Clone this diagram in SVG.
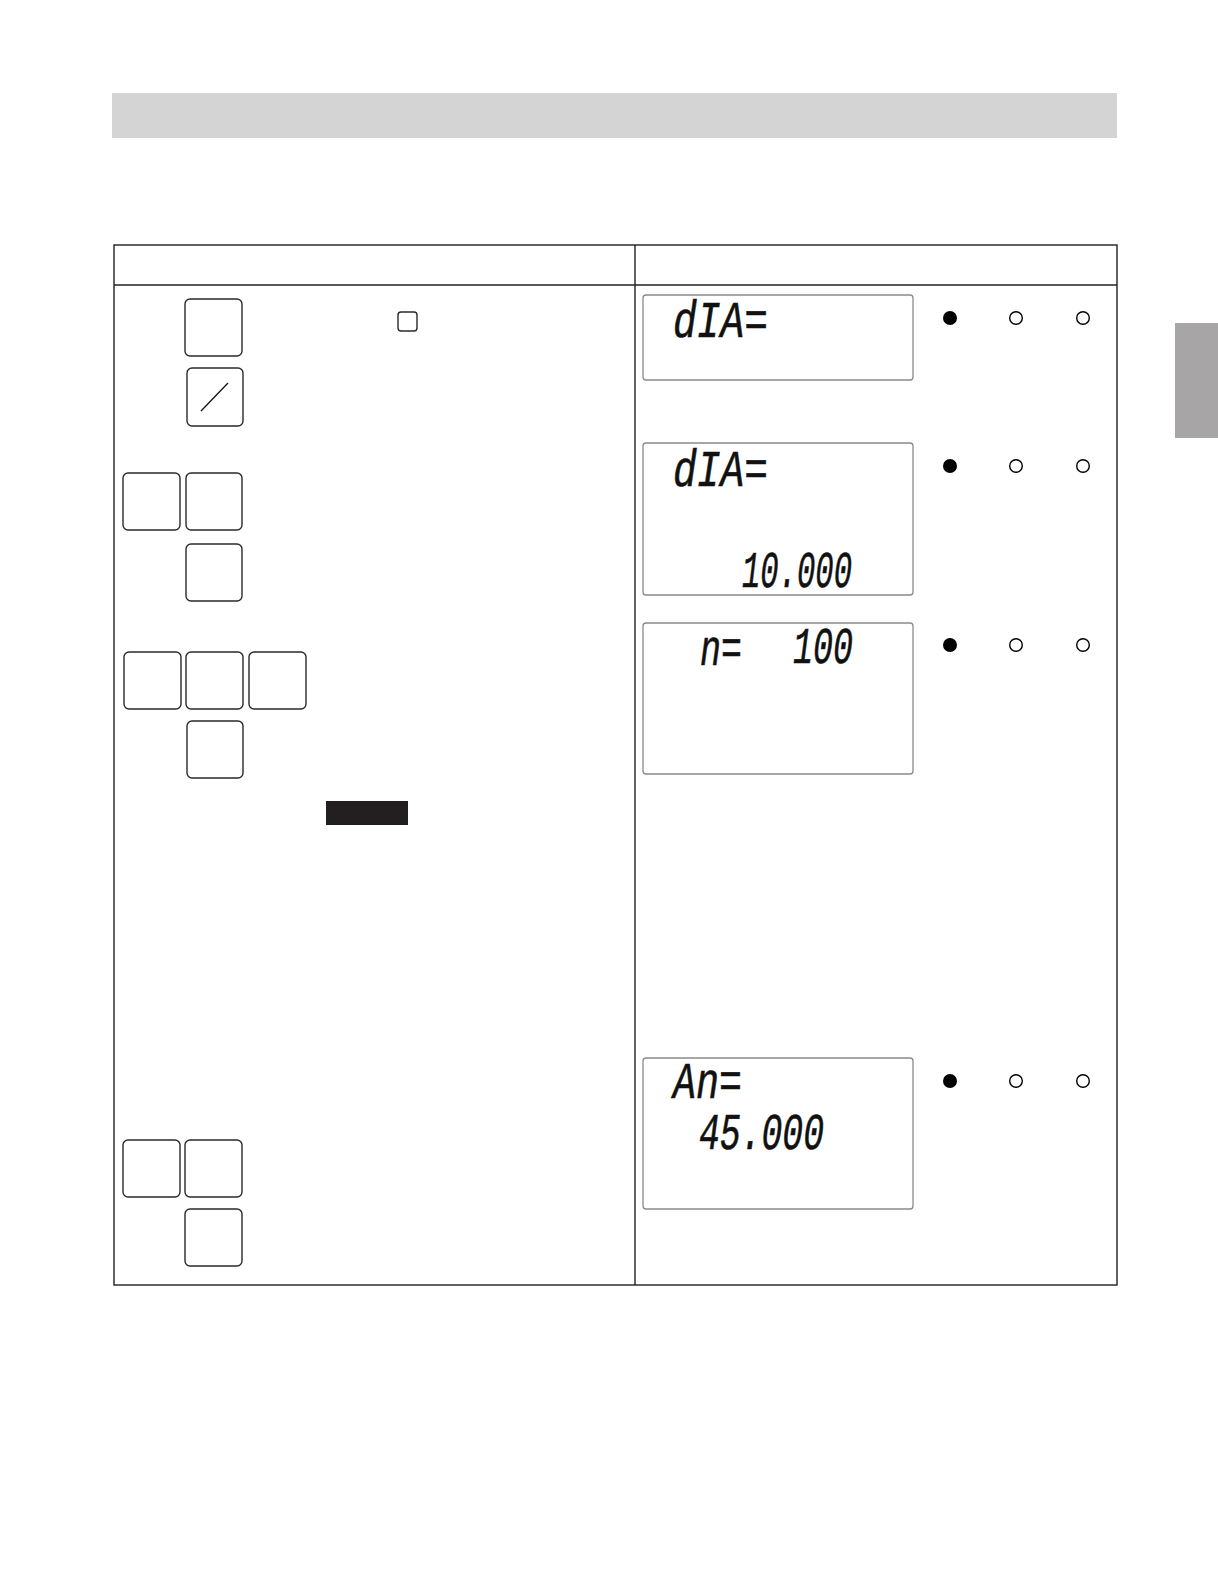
<svg xmlns="http://www.w3.org/2000/svg" width="1218" height="1586" viewBox="0 0 1218 1586">
<style>
.key{fill:#fff;stroke:#2a2a2a;stroke-width:1.4}
.lcd{fill:#fff;stroke:#8a8a8a;stroke-width:1.3}
.grid{fill:none;stroke:#231f20;stroke-width:1.4}
.seg{font-family:"Liberation Mono","Courier New",monospace;font-style:italic;font-size:52px;fill:#111;stroke:#111;stroke-width:0.6}
.on{fill:#000}
.off{fill:#fff;stroke:#000;stroke-width:1.4}
</style>
<rect width="1218" height="1586" fill="#fff"/>
<g id="header-bar"><rect x="112" y="93" width="1005" height="45" fill="#d4d4d4"/></g>
<g id="side-tab"><rect x="1175" y="323" width="43" height="115" fill="#a7a5a5"/></g>
<g id="table">
<rect class="grid" x="114" y="245" width="1003" height="1040"/>
<line class="grid" x1="114" y1="285" x2="1117" y2="285"/>
<line class="grid" x1="635" y1="245" x2="635" y2="1285"/>
</g>
<g id="keys-step1">
<rect class="key" x="185" y="299" width="57" height="57" rx="5"/>
<rect class="key" x="398" y="312" width="19" height="19" rx="3"/>
<rect class="key" x="187" y="368" width="56" height="58" rx="5"/>
<line x1="201" y1="411" x2="228" y2="383" stroke="#111" stroke-width="1.3"/>
</g>
<g id="keys-step2">
<rect class="key" x="123" y="473" width="57" height="57" rx="5"/>
<rect class="key" x="186" y="473" width="56" height="57" rx="5"/>
<rect class="key" x="186" y="544" width="56" height="57" rx="5"/>
</g>
<g id="keys-step3">
<rect class="key" x="124" y="652" width="57" height="57" rx="5"/>
<rect class="key" x="186" y="652" width="57" height="57" rx="5"/>
<rect class="key" x="249" y="652" width="57" height="57" rx="5"/>
<rect class="key" x="187" y="721" width="56" height="57" rx="5"/>
</g>
<g id="black-bar"><rect x="326" y="801" width="82" height="24" fill="#231f20"/></g>
<g id="keys-step4">
<rect class="key" x="123" y="1140" width="57" height="57" rx="5"/>
<rect class="key" x="185" y="1140" width="57" height="57" rx="5"/>
<rect class="key" x="185" y="1209" width="57" height="57" rx="5"/>
</g>
<g id="lcd1">
<rect class="lcd" x="643" y="295" width="270" height="85" rx="3"/>
<text class="seg" x="673" y="337" textLength="95" lengthAdjust="spacingAndGlyphs">dIA=</text>
</g>
<g id="lcd2">
<rect class="lcd" x="643" y="443" width="270" height="152" rx="3"/>
<text class="seg" x="673" y="486" textLength="95" lengthAdjust="spacingAndGlyphs">dIA=</text>
<text class="seg" x="742" y="587" textLength="110" lengthAdjust="spacingAndGlyphs">10.000</text>
</g>
<g id="lcd3">
<rect class="lcd" x="643" y="623" width="270" height="151" rx="3"/>
<text class="seg" x="700" y="665" textLength="42" lengthAdjust="spacingAndGlyphs">n=</text>
<text class="seg" x="793" y="663" textLength="60" lengthAdjust="spacingAndGlyphs">100</text>
</g>
<g id="lcd4">
<rect class="lcd" x="643" y="1058" width="270" height="151" rx="3"/>
<text class="seg" x="673" y="1098" textLength="69" lengthAdjust="spacingAndGlyphs">An=</text>
<text class="seg" x="699" y="1149" textLength="125" lengthAdjust="spacingAndGlyphs">45.000</text>
</g>
<g id="indicators1">
<circle class="on" cx="950" cy="318" r="7"/><circle class="off" cx="1016" cy="318" r="6.3"/><circle class="off" cx="1083" cy="318" r="6.3"/>
</g>
<g id="indicators2">
<circle class="on" cx="950" cy="466" r="7"/><circle class="off" cx="1016" cy="466" r="6.3"/><circle class="off" cx="1083" cy="466" r="6.3"/>
</g>
<g id="indicators3">
<circle class="on" cx="950" cy="645" r="7"/><circle class="off" cx="1016" cy="645" r="6.3"/><circle class="off" cx="1083" cy="645" r="6.3"/>
</g>
<g id="indicators4">
<circle class="on" cx="950" cy="1081" r="7"/><circle class="off" cx="1016" cy="1081" r="6.3"/><circle class="off" cx="1083" cy="1081" r="6.3"/>
</g>
<g id="connectors"/>
</svg>
